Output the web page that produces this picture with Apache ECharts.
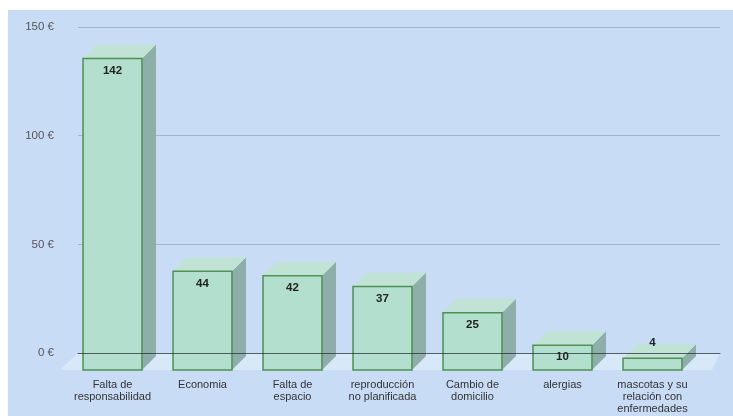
<!DOCTYPE html>
<html><head><meta charset="utf-8">
<script src="https://cdn.jsdelivr.net/npm/echarts@6/dist/echarts.min.js"></script>
<style>
html,body{margin:0;padding:0;background:#fff;}
#bg{position:absolute;left:8px;top:10px;width:725px;height:406px;background:#c9dcf6;}
#chart{position:absolute;left:0;top:0;width:733px;height:416px;}
</style></head>
<body>
<div id="bg"></div>
<div id="chart"></div>
<script>
const categories = ['Falta de\nresponsabilidad','Economia','Falta de\nespacio','reproducción\nno planificada','Cambio de\ndomicilio','alergias','mascotas y su\nrelación con\nenfermedades'];
const values = [142, 44, 42, 37, 25, 10, 4];
const yTicks = [0, 50, 100, 150];

const FONT = '"Liberation Sans", Arial, sans-serif';
const DX = 14, DY = 14, BELOW = 17;

const chart = echarts.init(document.getElementById('chart'));
chart.setOption({
  backgroundColor: 'transparent',
  animation: false,
  grid: [
    {left: 78, right: 13, top: 27, bottom: 63},
    {left: 67.5, right: 35.5, top: 27, bottom: 63}
  ],
  xAxis: [
    {gridIndex: 0, type: 'value', min: 0, max: 1, z: 10,
     axisLine: {show: true, onZero: false, lineStyle: {color: '#26313a', width: 1, opacity: 0.75}},
     axisTick: {show: false}, axisLabel: {show: false}, splitLine: {show: false}},
    {gridIndex: 1, type: 'category', data: categories,
     axisLine: {show: false}, axisTick: {show: false},
     axisLabel: {margin: 26, fontSize: 11, lineHeight: 11.8, color: '#333', fontFamily: FONT, interval: 0}}
  ],
  yAxis: [
    {gridIndex: 0, type: 'value', min: yTicks[0], max: yTicks[yTicks.length-1], interval: 50,
     axisLine: {show: false}, axisTick: {show: false},
     axisLabel: {formatter: v => v + ' €', fontSize: 11.5, color: '#555', fontFamily: FONT, margin: 24},
     splitLine: {lineStyle: {color: '#a2b5cd', width: 1}}},
    {gridIndex: 1, type: 'value', min: 0, max: 150, show: false}
  ],
  series: [
    {
      type: 'custom', xAxisIndex: 0, yAxisIndex: 0, z: 1, silent: true,
      data: [[0, 0]],
      renderItem: function (params, api) {
        const cs = params.coordSys;
        const y0 = api.coord([0, 0])[1];
        return {type: 'polygon', shape: {points: [
          [cs.x, y0], [cs.x + cs.width, y0], [cs.x + cs.width - 8, y0 + BELOW], [cs.x - 18, y0 + BELOW]
        ]}, style: {fill: '#d7e9f9'}};
      }
    },
    {
      type: 'custom', xAxisIndex: 1, yAxisIndex: 1, z: 3,
      data: values.map((v, i) => [i, v]),
      renderItem: function (params, api) {
        const idx = api.value(0), v = api.value(1);
        const p = api.coord([idx, v]);
        const y0 = api.coord([idx, 0])[1];
        const w = api.size([1, 0])[0] * 0.655;
        const cx = p[0], top = p[1];
        const L = cx - w / 2, R = cx + w / 2;
        const fTop = top + DY, fBot = y0 + BELOW;
        const inside = (fBot - fTop) > 20;
        return {type: 'group', children: [
          {type: 'polygon', shape: {points: [[R, fTop], [R + DX, top], [R + DX, y0 + BELOW - DY], [R, fBot]]},
           style: {fill: '#8eaea9'}},
          {type: 'polygon', shape: {points: [[L, fTop], [L + DX, top], [R + DX, top], [R, fTop]]},
           style: {fill: '#c0e3d5'}},
          {type: 'rect', shape: {x: L, y: fTop, width: w, height: fBot - fTop},
           style: {fill: '#b3dfcf', stroke: '#4e9153', lineWidth: 1.5}},
          {type: 'text', x: cx, y: inside ? fTop + 12 : top - 1,
           style: {text: String(v), font: 'bold 11.5px ' + FONT, fill: '#222', align: 'center', verticalAlign: 'middle'}}
        ]};
      }
    }
  ]
});
</script>
</body></html>
